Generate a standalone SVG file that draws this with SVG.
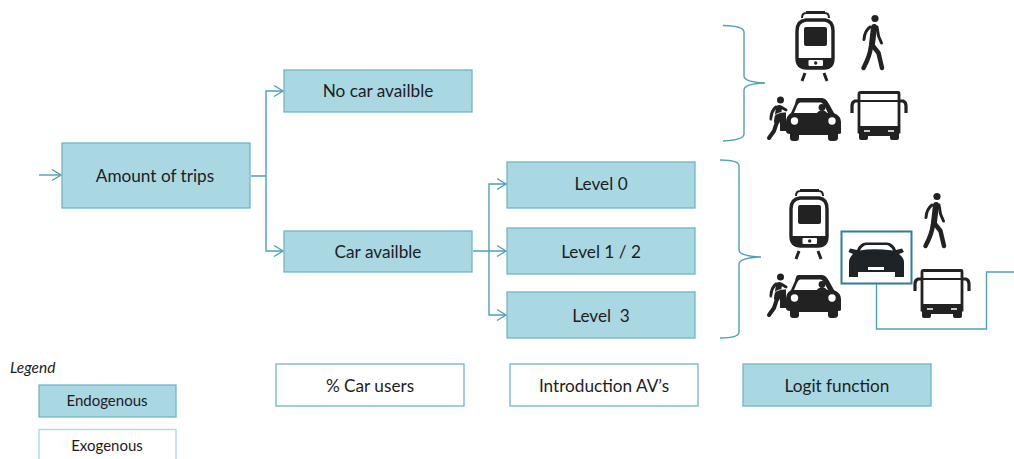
<svg xmlns="http://www.w3.org/2000/svg" width="1014" height="459" viewBox="0 0 1014 459">
<style>
text{font-family:"Lato","Liberation Sans",sans-serif;fill:#1d1d1d;text-anchor:middle}
.f{fill:#a9d7e2;stroke:#6fb4c7;stroke-width:1.3}
.w{fill:#fff;stroke:#6fb4c7;stroke-width:1.3}
.l{font-size:17.200px}
.c{fill:none;stroke:#4fa0b7;stroke-width:1.400}
.k{fill:#222}
.s{fill:none;stroke:#222;stroke-linecap:round;stroke-linejoin:round}
</style>
<defs>
<marker id="a" markerUnits="userSpaceOnUse" markerWidth="12" markerHeight="14" refX="10" refY="7" orient="auto"><path d="M1 1.500L10 7L1 12.500" fill="none" stroke="#4fa0b7" stroke-width="1.400"/></marker>
<g id="tram">
<path d="M802 18Q802 13 806 13H825Q829 13 829 18M806 12H825" fill="none" stroke="#222" stroke-width="2"/>
<path d="M806 20H825Q833 21 833 31V58Q833 68 824 68H807Q797 68 797 58V31Q797 21 806 20Z" fill="#fff" stroke="#222" stroke-width="3.400"/>
<rect class="k" x="804" y="27" width="23" height="19" rx="2"/>
<path class="k" d="M798 58H833V62Q833 68 824 68H807Q798 68 798 62Z"/>
<rect x="808.500" y="60" width="14.500" height="6" rx="1" fill="#fff"/>
<circle class="k" cx="815.700" cy="63" r="1.700"/>
<path d="M805 73L802 81M824 73L827 81" stroke="#222" stroke-width="3" fill="none"/>
</g>
<g id="walker">
<circle class="k" cx="875" cy="18.500" r="3.600"/>
<path class="s" stroke-width="6" d="M874 27L872 44"/>
<path class="s" stroke-width="3" d="M870 27Q864.500 31 864 39.500M877 27L878.500 36L881.500 43"/>
<path class="s" stroke-width="4.500" d="M871 46Q870 56 863.500 68M873 46L878.500 53L882 68"/>
</g>
<g id="carp">
<circle class="k" cx="780.500" cy="100" r="3.500"/>
<path class="s" stroke-width="6" d="M779 108L777 121"/>
<path class="s" stroke-width="3" d="M776 107Q771 111 771 119M781 107L786 110"/>
<path class="s" stroke-width="4" d="M777 122L774 131L769 138"/>
<path class="k" d="M780 112H786V131H780Z"/>
<path d="M772 120Q774 112 786 112" fill="none" stroke="#fff" stroke-width=".8"/>
<path class="k" d="M798 98H822Q826 98 829 104L834 113Q841 116 841 122V133Q841 134 838 134V138Q838 141 834 141H831Q828 141 828 138V135H799V138Q799 141 796 141H793Q790 141 790 138V134Q786 134 786 131V122Q786 116 791 113L795 104Q796 98 798 98Z"/>
<path d="M800 102.500H821Q823 103 825 107L828 113H794L797 106Q798 103 800 102.500Z" fill="#fff"/>
<circle class="k" cx="822" cy="107.500" r="3.400"/>
<path class="k" d="M817 113Q818 110.500 822 110.500Q826 110.500 827 113Z"/>
<circle cx="794.500" cy="121" r="3.700" fill="#fff"/>
<circle cx="832" cy="121" r="3.700" fill="#fff"/>
</g>
<g id="bus">
<path d="M861 92.500H898Q899 92 899 94L899 132H859V94Q859 92 861 92.500Z" fill="#fff" stroke="#222" stroke-width="2.800"/>
<path d="M860 101H898" stroke="#222" stroke-width="2"/>
<path d="M859 101H855Q852 102 852 106V113M899 101H903Q906 102 906 106V113" fill="none" stroke="#222" stroke-width="3.200"/>
<path class="k" d="M859 126L899 126V135Q899 136 898 136H860Q859 136 859 135Z"/>
<path class="k" d="M859 134H868V138Q868 140 866 140H861Q859 140 859 138ZM890 134H899V138Q899 140 897 140H892Q890 140 890 138Z"/>
<path d="M864 131H870M888 131H894" stroke="#fff" stroke-width="1.500"/>
</g>
</defs>
<g id="connectors">
<path class="c" d="M39 175H61" marker-end="url(#a)"/>
<path class="c" d="M251 176H266M266 176V91H283" marker-end="url(#a)"/>
<path class="c" d="M266 176V251H283" marker-end="url(#a)"/>
<path class="c" d="M473 251H506" marker-end="url(#a)"/>
<path class="c" d="M489 251V184H506" marker-end="url(#a)"/>
<path class="c" d="M489 251V315H506" marker-end="url(#a)"/>
<path class="c" d="M723 25.500Q744 26 744 32V76Q744 82 765 83Q744 84 744 90V134Q744 140 723 141"/>
<path class="c" d="M720 160Q739 160 739 166V250Q739 256 761 257Q739 258 739 264V332Q739 338 720 338"/>
<path class="c" d="M876.500 284V329H986.500V272H1014"/>
</g>
<g id="amount"><rect class="f" x="62" y="143" width="188" height="65"/><text class="l" x="155" y="182">Amount of trips</text></g>
<g id="nocar"><rect class="f" x="284" y="70" width="188" height="42"/><text class="l" x="378" y="97">No car availble</text></g>
<g id="car"><rect class="f" x="284" y="231" width="188" height="41"/><text class="l" x="378" y="258">Car availble</text></g>
<g id="level0"><rect class="f" x="507" y="162" width="188" height="46"/><text class="l" x="601" y="190">Level 0</text></g>
<g id="level12"><rect class="f" x="507" y="228" width="188" height="46"/><text class="l" x="601" y="258">Level 1 / 2</text></g>
<g id="level3"><rect class="f" x="507" y="292" width="188" height="46"/><text class="l" x="601" y="322" xml:space="preserve">Level  3</text></g>
<g id="carusers"><rect class="w" x="276" y="364" width="188" height="42"/><text class="l" x="370" y="392">% Car users</text></g>
<g id="introav"><rect class="w" x="510" y="364" width="188" height="42"/><text class="l" x="604" y="392">Introduction AV’s</text></g>
<g id="logit"><rect class="f" x="743" y="364" width="188" height="42"/><text class="l" x="837" y="392">Logit function</text></g>
<g id="legend"><text x="10" y="373" font-size="15.500" font-style="italic" style="text-anchor:start">Legend</text></g>
<g id="endo"><rect class="f" x="39" y="385" width="137" height="32"/><text x="107" y="406" font-size="15">Endogenous</text></g>
<g id="exo"><rect x="39" y="429.500" width="137" height="40" fill="#fff" stroke="#a9d7e2" stroke-width="1.300"/><text x="107" y="451" font-size="15">Exogenous</text></g>
<g id="icons-top">
<use href="#tram"/><use href="#walker"/><use href="#carp"/><use href="#bus"/>
</g>
<g id="icons-bottom">
<use href="#tram" transform="translate(-6 178)"/><use href="#walker" transform="translate(62 178)"/><use href="#carp" transform="translate(0 177)"/><use href="#bus" transform="translate(63 178)"/>
</g>
<g id="av">
<rect x="841.500" y="231.500" width="70" height="52" fill="#fff" stroke="#2f7f93" stroke-width="2"/>
<path d="M857 250Q860 242.500 866 242.500H887Q893 242.500 896 250L902 248.500L904 252L899 254Q904 258 904 262V277H895V272H858V277H849V262Q849 258 853 254L848.500 252L850 248.500ZM860 250.500Q872 248 893 250.500Q890 245 886 245H867Q863 245 860 250.500Z" fill="#1d2326"/>
<rect x="868" y="267" width="16" height="3" fill="#fff"/>
</g>
</svg>
